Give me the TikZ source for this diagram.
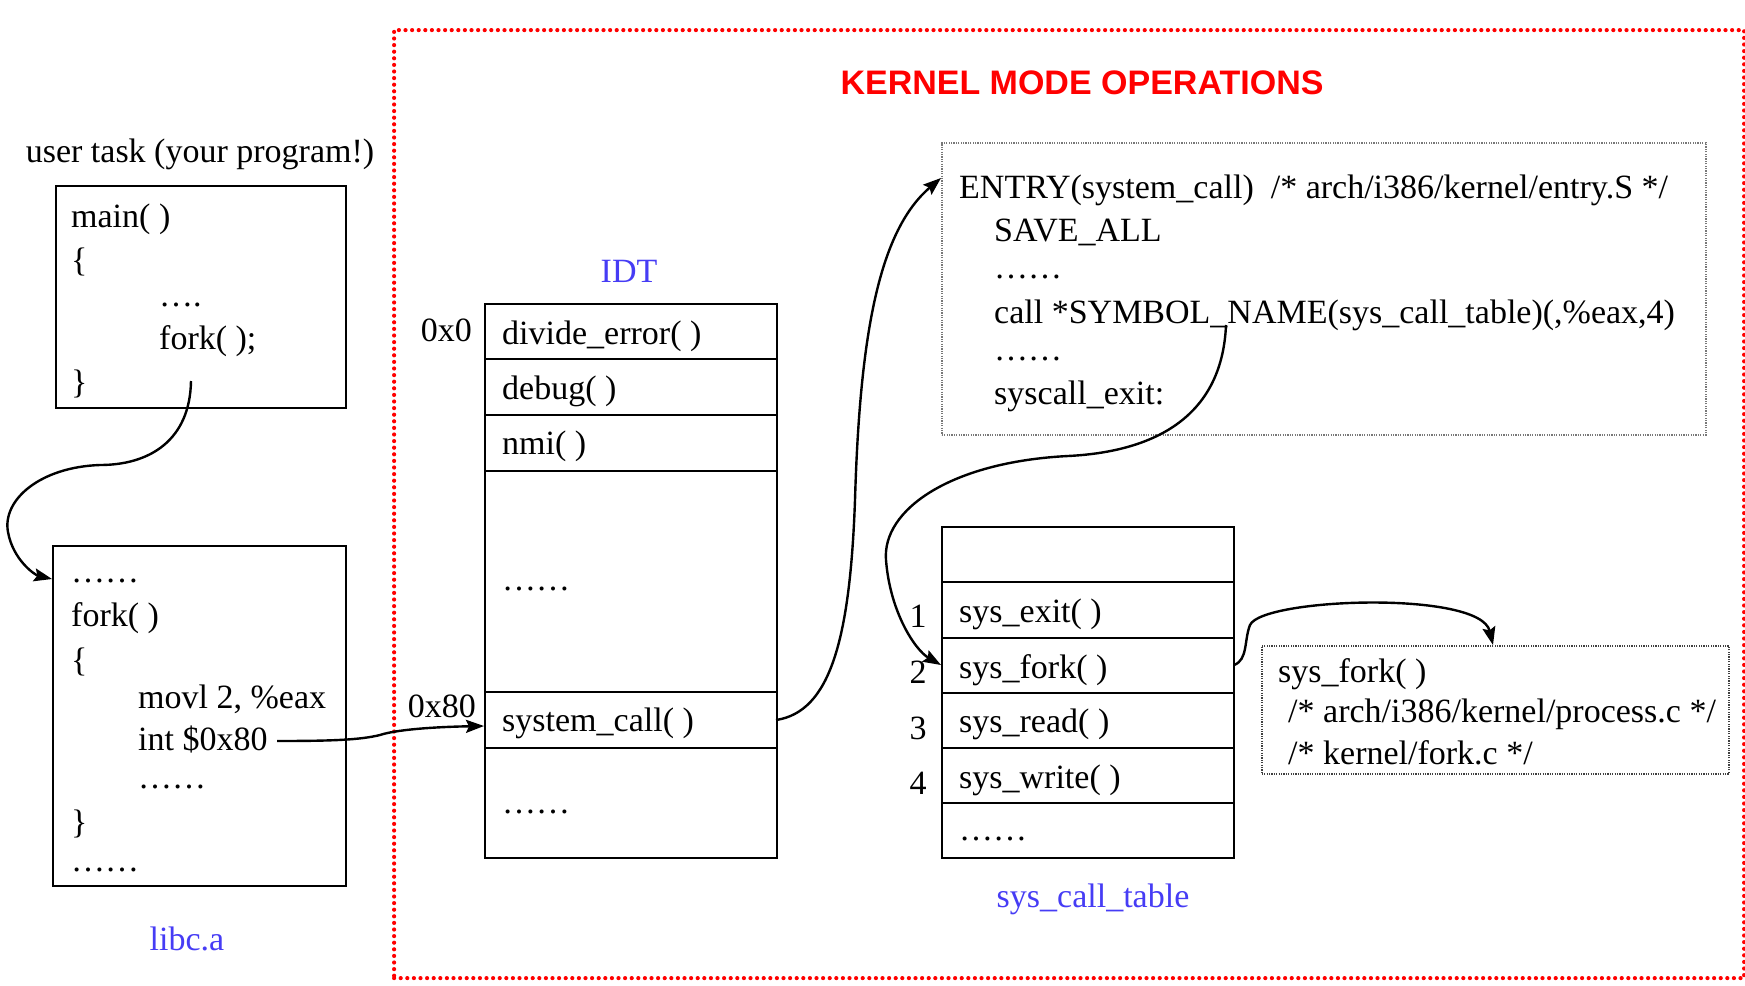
\documentclass[tikz,border=0pt]{standalone}
\usepackage{fontspec}
\setmainfont{Liberation Serif}
\newfontfamily\titlefont{Liberation Sans}
\usetikzlibrary{arrows.meta}
\definecolor{kred}{RGB}{255,0,0}
\definecolor{lblue}{RGB}{70,60,245}
\definecolor{dotgray}{RGB}{120,120,120}
\begin{document}
\begin{tikzpicture}[x=1pt,y=-1pt,
  txt/.style={font=\fontsize{34}{40}\selectfont, inner sep=0pt, anchor=base west, yshift=-2pt},
  lbl/.style={font=\fontsize{34}{40}\selectfont, inner sep=0pt, anchor=base, text=lblue, yshift=-2pt},
  box/.style={draw=black, line width=2.4pt, inner sep=0pt, anchor=north west},
  dbox/.style={draw=dotgray, line width=1.6pt, dash pattern=on 1.2pt off 1.2pt, inner sep=0pt, anchor=north west},
  conn/.style={line width=2.4pt, -{Stealth[length=18pt,width=13pt,inset=3pt]}},
  ]
\useasboundingbox (0,0) rectangle (1745,985);
\fill[white] (0,0) rectangle (1745,985);
% kernel border
\node[draw=kred, line width=4.2pt, dash pattern=on 0pt off 6.6pt, line cap=round, inner sep=0pt, anchor=north west, minimum width=1350pt, minimum height=948pt] (kernel) at (392,28) {};
\node[font=\titlefont\bfseries\fontsize{34}{40}\selectfont, text=kred, inner sep=0pt, anchor=base] (title) at (1082,94) {KERNEL MODE OPERATIONS};

% user task
\node[txt, anchor=base] (usertask) at (200,160) {user task (your program!)};
\node[box, minimum width=290pt, minimum height=222pt] (mainbox) at (55,185) {};
\node[txt] (m1) at (71,225) {main( )};
\node[txt] (m2) at (71,269) {\{};
\node[txt] (m3) at (159,304) {….};
\node[txt] (m4) at (159,347) {fork( );};
\node[txt] (m5) at (71,391) {\}};

% libc
\node[box, minimum width=293pt, minimum height=340pt] (libcbox) at (52,545) {};
\node[txt] (l1) at (71,580) {……};
\node[txt] (l2) at (71,624) {fork( )};
\node[txt] (l3) at (71,669) {\{};
\node[txt] (l4) at (138,706) {movl 2, \%eax};
\node[txt] (l5) at (138,748) {int \$0x80};
\node[txt] (l6) at (138,786) {……};
\node[txt] (l7) at (71,831) {\}};
\node[txt] (l8) at (71,869) {……};
\node[lbl] (libclbl) at (187,948) {libc.a};

% IDT
\node[lbl] (idtlbl) at (629,280) {IDT};
\node[box, minimum width=292pt, minimum height=55pt] (idt1) at (484,303) {};
\node[box, minimum width=292pt, minimum height=56pt] (idt2) at (484,358) {};
\node[box, minimum width=292pt, minimum height=56pt] (idt3) at (484,414) {};
\node[box, minimum width=292pt, minimum height=221pt] (idt4) at (484,470) {};
\node[box, minimum width=292pt, minimum height=56pt] (idtsys) at (484,691) {};
\node[box, minimum width=292pt, minimum height=110pt] (idt6) at (484,747) {};
\node[txt] (i1) at (502,342) {divide\_error( )};
\node[txt] (i2) at (502,397) {debug( )};
\node[txt] (i3) at (502,452) {nmi( )};
\node[txt] (i4) at (502,588) {……};
\node[txt] (i5) at (502,729) {system\_call( )};
\node[txt] (i6) at (502,811) {……};
\node[txt, anchor=base east] (hex0) at (472,339) {0x0};
\node[txt, anchor=base east] (hex80) at (476,715) {0x80};

% entry box
\node[dbox, minimum width=764pt, minimum height=292pt] (entry) at (941,142) {};
\node[txt] (e1) at (959,196) {ENTRY(system\_call)\ \ /* arch/i386/kernel/entry.S */};
\node[txt] (e2) at (994,239) {SAVE\_ALL};
\node[txt] (e3) at (994,276) {……};
\node[txt] (e4) at (994,321) {call *SYMBOL\_NAME(sys\_call\_table)(,\%eax,4)};
\node[txt] (e5) at (994,358) {……};
\node[txt] (e6) at (994,402) {syscall\_exit:};

% sys_call_table
\node[box, minimum width=292pt, minimum height=55pt] (sc0) at (941,526) {};
\node[box, minimum width=292pt, minimum height=56pt] (sc1) at (941,581) {};
\node[box, minimum width=292pt, minimum height=55pt] (scfork) at (941,637) {};
\node[box, minimum width=292pt, minimum height=55pt] (sc3) at (941,692) {};
\node[box, minimum width=292pt, minimum height=55pt] (sc4) at (941,747) {};
\node[box, minimum width=292pt, minimum height=55pt] (sc5) at (941,802) {};
\node[txt] (s1) at (959,620) {sys\_exit( )};
\node[txt] (s2) at (959,676) {sys\_fork( )};
\node[txt] (s3) at (959,730) {sys\_read( )};
\node[txt] (s4) at (959,786) {sys\_write( )};
\node[txt] (s5) at (959,838) {……};
\node[txt, anchor=base] (n1) at (918,625) {1};
\node[txt, anchor=base] (n2) at (918,681) {2};
\node[txt, anchor=base] (n3) at (918,737) {3};
\node[txt, anchor=base] (n4) at (918,792) {4};
\node[lbl] (sctlbl) at (1093,905) {sys\_call\_table};

% sys_fork box
\node[dbox, draw=black!75, minimum width=467pt, minimum height=128pt] (forkbox) at (1261,645) {};
\node[txt] (f1) at (1278,680) {sys\_fork( )};
\node[txt] (f2) at (1288,720) {/* arch/i386/kernel/process.c */};
\node[txt] (f3) at (1288,762) {/* kernel/fork.c */};

% connector end points
\coordinate (forkcall) at (191,381);
\coordinate (libcin) at (52,579);
\coordinate (intout) at (277,741);
\coordinate (idtin) at (484,726);
\coordinate (sysout) at (776,720);
\coordinate (entryin) at (941,178);
\coordinate (callout) at (1226,325);
\coordinate (forkin) at (941,665);
\coordinate (forkout) at (1234,665);
\coordinate (forkboxin) at (1493,645);

\draw[conn] (forkcall) .. controls (190,440) and (150,465) .. (100,465)
  .. controls (40,467) and (2,500) .. (8,532)
  .. controls (13,560) and (35,575) .. (libcin);
\draw[conn] (intout) .. controls (330,741) and (360,740) .. (380,735)
  .. controls (395,730) and (430,727) .. (idtin);
\draw[conn] (sysout) .. controls (830,712) and (850,640) .. (855,500)
  .. controls (860,330) and (880,230) .. (entryin);
\draw[conn] (callout) .. controls (1222,420) and (1150,452) .. (1068,456)
  .. controls (950,462) and (882,510) .. (886,560)
  .. controls (890,612) and (915,650) .. (forkin);
\draw[conn] (forkout) .. controls (1248,660) and (1244,640) .. (1250,625)
  .. controls (1262,598) and (1480,590) .. (forkboxin);
\end{tikzpicture}
\end{document}
